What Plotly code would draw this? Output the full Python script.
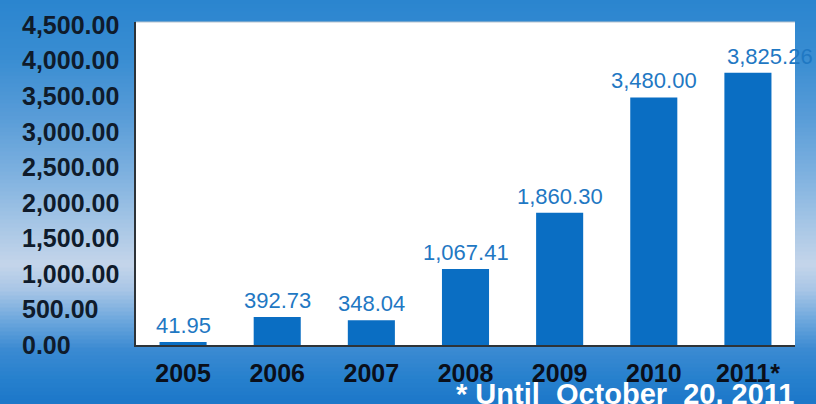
import plotly.graph_objects as go

# Yearly totals
years = ["2005", "2006", "2007", "2008", "2009", "2010", "2011*"]
values = [41.95, 392.73, 348.04, 1067.41, 1860.30, 3480.00, 3825.26]
y_ticks = [0, 500, 1000, 1500, 2000, 2500, 3000, 3500, 4000, 4500]
footnote = "* Until  October  20, 2011"

W, H = 816, 404
M_L, M_R, M_T, M_B = 136, 21, 22, 59
PLOT_W = W - M_L - M_R
PLOT_H = H - M_T - M_B

BAR_COLOR = "#0a6ec3"
LABEL_COLOR = "#1f78c3"

fig = go.Figure(
    go.Bar(
        x=years,
        y=values,
        marker=dict(color=BAR_COLOR, line=dict(width=0)),
        hoverinfo="skip",
    )
)

# Background gradient built from horizontal strips (pixel row -> colour stops)
stops = [
    (0, (42, 133, 207)),
    (60, (58, 141, 210)),
    (120, (90, 157, 216)),
    (180, (130, 179, 224)),
    (230, (170, 200, 230)),
    (265, (196, 213, 234)),
    (290, (169, 198, 230)),
    (320, (110, 168, 221)),
    (350, (59, 138, 210)),
    (380, (38, 128, 205)),
    (404, (28, 119, 201)),
]


def colour_at(py):
    for (p0, c0), (p1, c1) in zip(stops[:-1], stops[1:]):
        if p0 <= py <= p1:
            t = (py - p0) / (p1 - p0)
            return "rgb(%d,%d,%d)" % tuple(round(a + (b - a) * t) for a, b in zip(c0, c1))
    return "rgb(%d,%d,%d)" % stops[-1][1]


def to_paper_y(py):
    return (H - M_B - py) / PLOT_H


shapes = []
step = 4
for py in range(0, H, step):
    shapes.append(dict(
        type="rect", xref="paper", yref="paper", layer="below",
        x0=-M_L / PLOT_W - 0.01, x1=1 + M_R / PLOT_W + 0.01,
        y0=to_paper_y(py + step + 0.5), y1=to_paper_y(py - 0.5),
        fillcolor=colour_at(py + step / 2), line=dict(width=0),
    ))
# White plotting area
shapes.append(dict(
    type="rect", xref="paper", yref="paper", layer="below",
    x0=0, x1=1, y0=0, y1=1, fillcolor="white",
    line=dict(width=0),
))
shapes.append(dict(
    type="line", xref="paper", yref="paper", layer="below",
    x0=0, x1=1, y0=1, y1=1, line=dict(color="#b8c4cf", width=1),
))

annotations = []
# Value labels above bars (x given as category index); the last one sits
# slightly to the right of its bar
for i, v in enumerate(values):
    annotations.append(dict(
        x=i, y=v, xref="x", yref="y", text=f"{v:,.2f}",
        showarrow=False, yanchor="bottom", xanchor="center", yshift=2,
        xshift=22 if i == len(values) - 1 else 0,
        font=dict(family="Liberation Sans Narrow, Arial Narrow, Liberation Sans, Arial",
                  size=22, color=LABEL_COLOR),
    ))
# Left-aligned y tick labels
for t in y_ticks:
    annotations.append(dict(
        x=(20 - M_L) / PLOT_W, y=t, xref="paper", yref="y",
        text=f"<b>{t:,.2f}</b>", showarrow=False, xanchor="left", yanchor="middle",
        font=dict(family="Liberation Sans, Arial", size=25, color="#0f1b2b"),
    ))
# Footnote along the bottom edge
annotations.append(dict(
    x=(796 - M_L) / PLOT_W, y=to_paper_y(394), xref="paper", yref="paper",
    text=f"<b>{footnote}</b>",
    showarrow=False, xanchor="right", yanchor="middle",
    font=dict(family="Liberation Sans, Arial", size=29, color="white"),
))

fig.update_layout(
    width=W, height=H,
    margin=dict(l=M_L, r=M_R, t=M_T, b=M_B, pad=0),
    paper_bgcolor="#2a85cf",
    plot_bgcolor="white",
    bargap=0.5,
    showlegend=False,
    shapes=shapes,
    annotations=annotations,
    xaxis=dict(
        type="category", range=[-0.5, len(years) - 0.5],
        showgrid=False, zeroline=False,
        showline=True, linecolor="#2d3338", linewidth=2,
        ticks="", ticklabelstandoff=5,
        tickfont=dict(family="Liberation Sans, Arial", size=25, color="#0a0f1a", weight="bold"),
    ),
    yaxis=dict(
        range=[0, 4540], showgrid=False, zeroline=False,
        showline=True, linecolor="#2d3338", linewidth=2,
        showticklabels=False, ticks="",
    ),
)

fig.write_html("out.html")
